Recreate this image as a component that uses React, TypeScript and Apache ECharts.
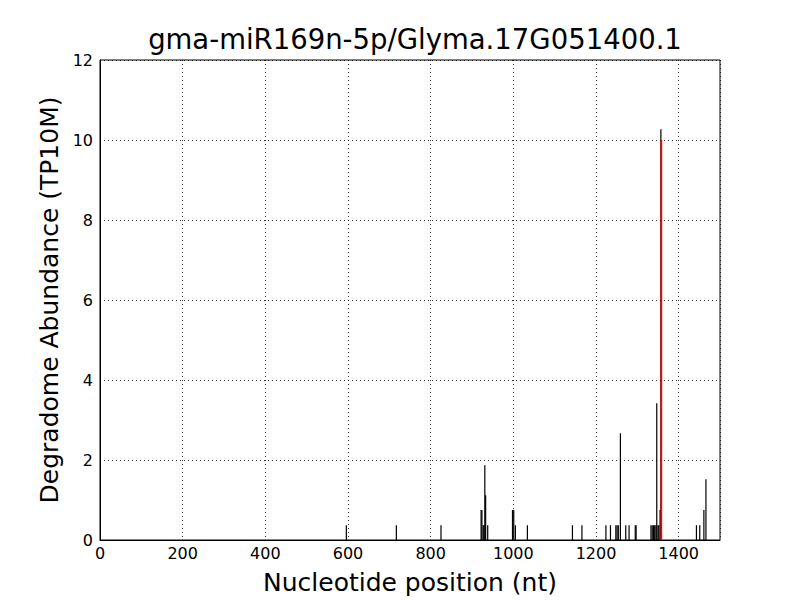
import React, { useEffect, useRef } from "react";
import * as echarts from "echarts";

const TITLE = "gma-miR169n-5p/Glyma.17G051400.1";
const X_LABEL = "Nucleotide position (nt)";
const Y_LABEL = "Degradome Abundance (TP10M)";

const positions = [
  596, 717, 825, 922, 924, 927, 929, 931, 933, 938, 998, 1001, 1005, 1034,
  1143, 1166, 1224, 1235, 1248, 1251, 1254, 1259, 1272, 1280, 1295, 1297,
  1333, 1336, 1339, 1342, 1345, 1347, 1350, 1352, 1355, 1357, 1443, 1451,
  1461, 1466,
];
const abundances = [
  0.37, 0.37, 0.37, 0.75, 0.75, 0.37, 0.37, 1.87, 1.12, 0.37, 0.75, 0.75,
  0.37, 0.37, 0.37, 0.37, 0.37, 0.37, 0.37, 0.37, 0.37, 2.67, 0.37, 0.37,
  0.37, 0.37, 0.37, 0.37, 0.37, 0.37, 0.37, 3.42, 0.37, 0.37, 0.75, 10.27,
  0.37, 0.37, 0.75, 1.52,
];
const cleavagePositions = [1358];
const cleavageAbundances = [10.0];

const FONT = "DejaVu Sans";

function vline(color: string, width: number) {
  return (params: any, api: any) => {
    const x = api.value(0);
    const y = api.value(1);
    const p0 = api.coord([x, 0]);
    const p1 = api.coord([x, y]);
    return {
      type: "line",
      shape: { x1: p0[0], y1: p0[1], x2: p1[0], y2: p1[1] },
      style: { stroke: color, lineWidth: width },
    };
  };
}

export default function App() {
  const ref = useRef<HTMLDivElement>(null);
  useEffect(() => {
    document.body.style.margin = "0";
    const chart = echarts.init(ref.current!, null, { renderer: "svg" });
    const gridLine = { show: true, lineStyle: { color: "#000", type: [1, 3], width: 1, opacity: 0.8 } };
    chart.setOption({
      animation: false,
      backgroundColor: "#fff",
      title: {
        text: TITLE,
        left: 410,
        textAlign: "center",
        top: 20,
        textStyle: { fontFamily: FONT, fontSize: 27.5, fontWeight: "normal", color: "#000" },
      },
      grid: { left: 100, right: 80, top: 60, bottom: 60, show: true, borderColor: "#000", borderWidth: 1 },
      xAxis: {
        type: "value",
        min: 0,
        max: 1500,
        interval: 200,
        name: X_LABEL,
        nameLocation: "middle",
        nameGap: 30,
        nameTextStyle: { fontFamily: FONT, fontSize: 25, color: "#000" },
        axisLine: { show: true, lineStyle: { color: "#000", width: 1 } },
        axisTick: { show: false },
        axisLabel: {
          fontFamily: FONT,
          fontSize: 16,
          color: "#000",
          margin: 5,
          showMaxLabel: false,
          formatter: (v: number) => String(v),
        },
        splitLine: gridLine,
      },
      yAxis: {
        type: "value",
        min: 0,
        max: 12,
        interval: 2,
        name: Y_LABEL,
        nameLocation: "middle",
        nameGap: 36,
        nameTextStyle: { fontFamily: FONT, fontSize: 25, color: "#000" },
        axisLine: { show: true, lineStyle: { color: "#000", width: 1 } },
        axisTick: { show: false },
        axisLabel: {
          fontFamily: FONT,
          fontSize: 16,
          color: "#000",
          margin: 7,
          formatter: (v: number) => String(v),
        },
        splitLine: gridLine,
      },
      series: [
        {
          type: "custom",
          renderItem: vline("#000", 1.2),
          data: positions.map((p, i) => [p, abundances[i]]),
          encode: { x: 0, y: 1 },
          z: 2,
        },
        {
          type: "custom",
          renderItem: vline("#ff0000", 1.8),
          data: cleavagePositions.map((p, i) => [p, cleavageAbundances[i]]),
          encode: { x: 0, y: 1 },
          z: 3,
        },
      ],
    });
    return () => chart.dispose();
  }, []);
  return <div ref={ref} style={{ width: 800, height: 600 }} />;
}
